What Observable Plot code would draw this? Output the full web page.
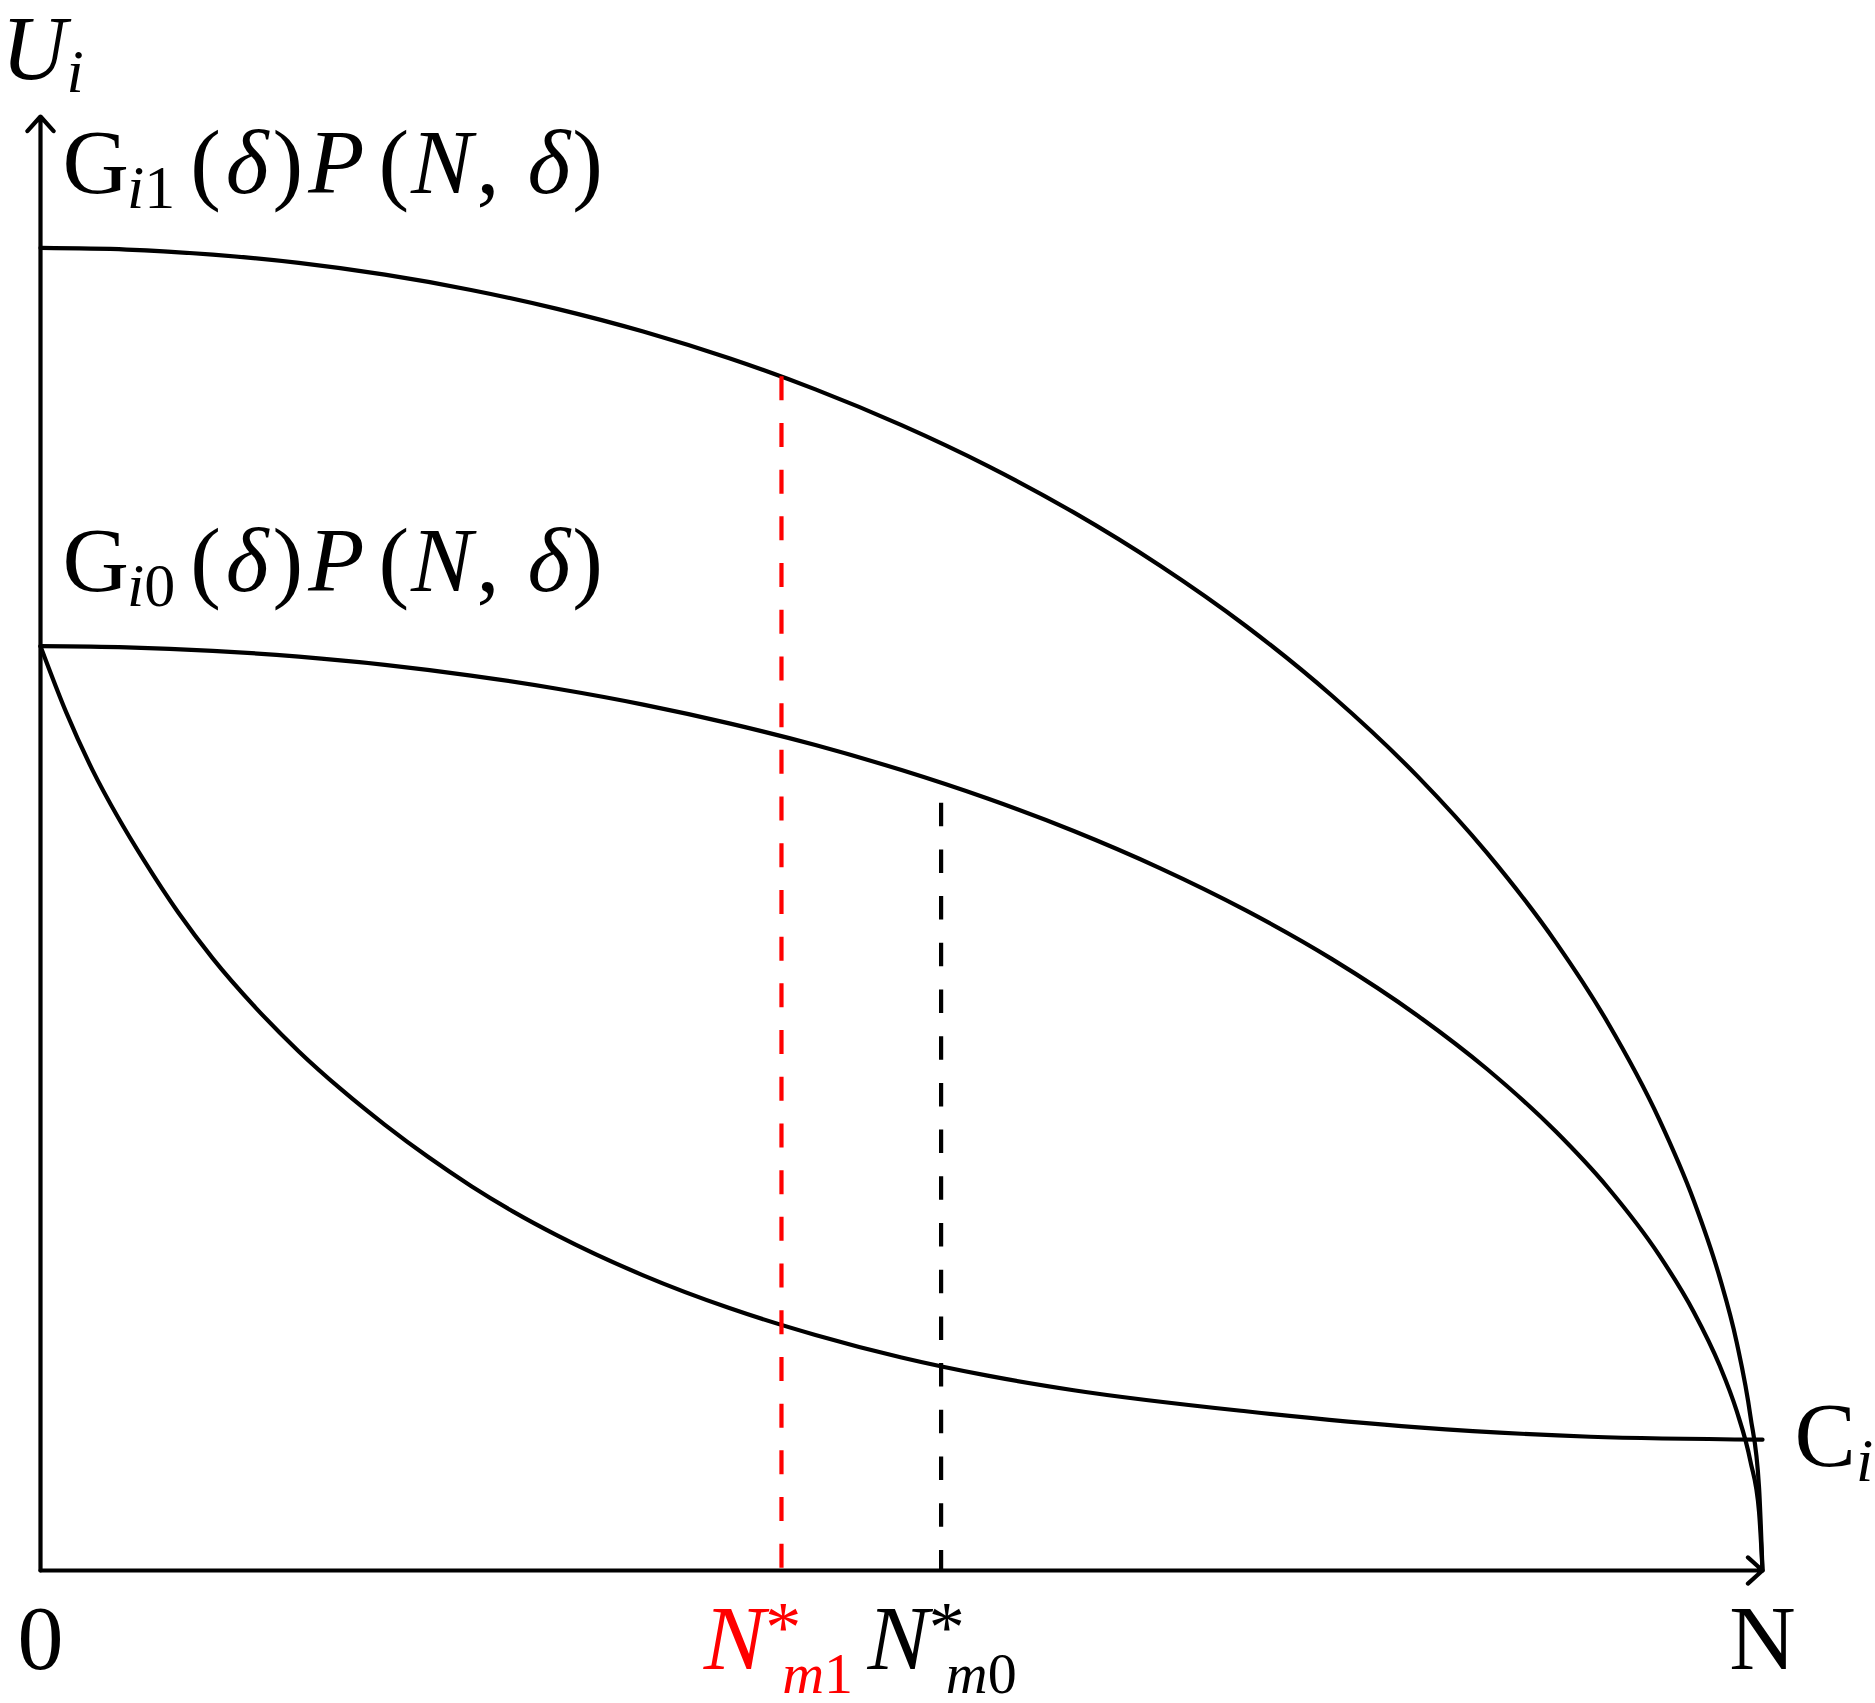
<!DOCTYPE html>
<html>
<head>
<meta charset="utf-8">
<script src="https://cdn.jsdelivr.net/npm/d3@7"></script>
<script src="https://cdn.jsdelivr.net/npm/@observablehq/plot@0.6"></script>
<style>
  html, body { margin: 0; padding: 0; background: #fff; overflow: hidden; }
  #chart svg { display: block; }
</style>
</head>
<body>
<div id="chart"></div>
<script>
// ---- data (x: 0..N ; y: utility, 0..top of axis) ----
const N = 100;
const U_TOP = 100;

// shared x positions for the two G·P curves
const gX = [0, 5, 10, 15, 20, 25, 30, 35, 40, 45, 50, 55, 60, 65, 70, 75, 80, 84, 88, 91, 94, 96, 97.5, 98.5, 99.3, 99.8, 100];
// G_i1(δ)P(N,δ)
const g1Y = [90.96, 90.85, 90.50, 89.93, 89.12, 88.07, 86.77, 85.21, 83.37, 81.23, 78.77, 75.97, 72.77, 69.12, 64.96, 60.16, 54.58, 49.35, 43.20, 37.71, 31.03, 25.47, 20.21, 15.70, 10.60, 5.70, 0];
// G_i0(δ)P(N,δ)
const g0Y = [63.57, 63.49, 63.25, 62.85, 62.29, 61.55, 60.64, 59.55, 58.26, 56.77, 55.05, 53.09, 50.86, 48.31, 45.40, 42.05, 38.14, 34.49, 30.19, 26.36, 21.69, 17.80, 14.13, 10.97, 7.51, 4.02, 0];

// C_i
const cX = [0, 1.5, 3, 4.5, 6, 8, 10, 12.5, 15, 17.5, 20, 22.5, 25, 27.5, 30, 35, 40, 45, 50, 55, 60, 70, 80, 90, 100];
const cY = [63.57, 59.0, 55.1, 51.8, 48.85, 45.25, 42.1, 38.7, 35.7, 33.05, 30.65, 28.45, 26.45, 24.65, 23.05, 20.3, 18.05, 16.2, 14.65, 13.4, 12.4, 10.95, 9.85, 9.2, 9.0];

// optimum points
const Nm1 = 43.03, Nm1Top = 82.1;    // red
const Nm0 = 52.30, Nm0Top = 52.77;   // black

// labels
const xTickLabels = ["0", "N*_m1", "N*_m0", "N"];
const xTickValues = [0, Nm1, Nm0, N];
const xTickRed = [false, true, false, false];
const curveLabels = ["G_i1(δ)P(N,δ)", "G_i0(δ)P(N,δ)", "C_i"];
const yAxisLabel = "U_i";

// ---- build tables ----
const toPts = (xs, ys) => xs.map((x, i) => ({x, y: ys[i]}));
const g1 = toPts(gX, g1Y);
const g0 = toPts(gX, g0Y);
const ci = toPts(cX, cY);
const ticks = xTickValues.map((x, i) => ({x, label: xTickLabels[i], red: xTickRed[i]}));
const axes = [
  {x1: 0, y1: 0, x2: 0, y2: U_TOP},
  {x1: 0, y1: 0, x2: N, y2: 0}
];

const LW = 4.2;
const FS = 92;

const plot = Plot.plot({
  width: 1875,
  height: 1703,
  marginLeft: 40,
  marginRight: 113,
  marginTop: 116,
  marginBottom: 133,
  x: {domain: [0, N], axis: null},
  y: {domain: [0, U_TOP], axis: null},
  style: {
    fontFamily: "'Liberation Serif', 'Times New Roman', serif",
    fontSize: FS + "px",
    background: "#fff",
    color: "#000",
    overflow: "visible"
  },
  marks: [
    Plot.line(g1, {x: "x", y: "y", curve: "monotone-x", stroke: "#000", strokeWidth: LW}),
    Plot.line(g0, {x: "x", y: "y", curve: "monotone-x", stroke: "#000", strokeWidth: LW}),
    Plot.line(ci, {x: "x", y: "y", curve: "monotone-x", stroke: "#000", strokeWidth: LW}),
    Plot.ruleX([{x: Nm1, top: Nm1Top}], {x: "x", y1: "top", y2: 0, stroke: "#ff0000", strokeWidth: LW, strokeDasharray: "24,22.7"}),
    Plot.ruleX([{x: Nm0, top: Nm0Top}], {x: "x", y1: "top", y2: 0, stroke: "#000", strokeWidth: LW, strokeDasharray: "23.5,23.2"}),
    Plot.arrow(axes, {x1: "x1", y1: "y1", x2: "x2", y2: "y2", stroke: "#000", strokeWidth: LW, headAngle: 84, headLength: 7}),
    // x "tick" labels
    Plot.text(ticks.filter(d => !d.red && d.label !== "N*_m0"), {x: "x", y: 0, text: "label", fill: "#000", fontSize: FS, textAnchor: "middle", lineAnchor: "bottom", dy: 98}),
    Plot.text(ticks.filter(d => d.label === "N*_m0"), {x: "x", y: 0, text: "label", fill: "#000", fontSize: FS, textAnchor: "middle", lineAnchor: "bottom", dx: 1, dy: 98}),
    Plot.text(ticks.filter(d => d.red), {x: "x", y: 0, text: "label", fill: "#ff0000", fontSize: FS, textAnchor: "middle", lineAnchor: "bottom", dx: -3, dy: 98}),
    // curve labels
    Plot.text([{x: gX[0], y: g1Y[0], t: curveLabels[0]}], {x: "x", y: "y", text: "t", fontSize: FS, textAnchor: "start", lineAnchor: "bottom", dx: 22, dy: -55}),
    Plot.text([{x: gX[0], y: g0Y[0], t: curveLabels[1]}], {x: "x", y: "y", text: "t", fontSize: FS, textAnchor: "start", lineAnchor: "bottom", dx: 22, dy: -55}),
    Plot.text([{x: cX[cX.length - 1], y: cY[cY.length - 1], t: curveLabels[2]}], {x: "x", y: "y", text: "t", fontSize: FS, textAnchor: "start", lineAnchor: "bottom", dx: 32, dy: 26}),
    // y axis label
    Plot.text([{x: 0, y: U_TOP, t: yAxisLabel}], {x: "x", y: "y", text: "t", fontSize: 90, textAnchor: "start", lineAnchor: "bottom", dx: -39, dy: -38})
  ]
});

document.getElementById("chart").appendChild(plot);

// ---- rich text (sub/superscripts, italics) ----
const richDefs = {
  "U_i": {shift: 13, sub: 62, segs: [["U", "it"], ["i", "it sub"]]},
  "G_i1(δ)P(N,δ)": {shift: 15, sub: 62, segs: [["G"], ["i", "it sub", -2], ["1", "sub"], ["(", "", 15], ["δ", "it", 5], [")", "", 4], ["P", "it", 5], ["(", "", 14], ["N", "it", 2], [",", "", 4], ["δ", "it", 28], [")", "", 2]]},
  "G_i0(δ)P(N,δ)": {shift: 15, sub: 62, segs: [["G"], ["i", "it sub", -2], ["0", "sub"], ["(", "", 15], ["δ", "it", 5], [")", "", 4], ["P", "it", 5], ["(", "", 14], ["N", "it", 2], [",", "", 4], ["δ", "it", 28], [")", "", 2]]},
  "C_i": {shift: 15, sub: 62, segs: [["C"], ["i", "it sub"]]},
  "N*_m1": {shift: 24, sub: 58, segs: [["N", "it"], ["*", "sup"], ["m", "it sub", -19], ["1", "sub"]]},
  "N*_m0": {shift: 24, sub: 58, segs: [["N", "it"], ["*", "sup"], ["m", "it sub", -19], ["0", "sub"]]}
};
const SVGNS = "http://www.w3.org/2000/svg";
d3.select(plot).selectAll("text").each(function () {
  const def = richDefs[this.textContent];
  if (!def) return;
  this.textContent = "";
  let cur = 0;
  for (const [str, kind = "", dx = 0] of def.segs) {
    const t = document.createElementNS(SVGNS, "tspan");
    t.textContent = str;
    let target = 0, size = null;
    if (kind.includes("sub")) { target = def.shift; size = def.sub; }
    if (kind.includes("sup")) { target = -18; size = 72; }
    if (target !== cur) t.setAttribute("dy", target - cur);
    cur = target;
    if (dx) t.setAttribute("dx", dx);
    if (size) t.setAttribute("font-size", size);
    if (kind.includes("it")) t.setAttribute("font-style", "italic");
    this.appendChild(t);
  }
});
</script>
</body>
</html>
